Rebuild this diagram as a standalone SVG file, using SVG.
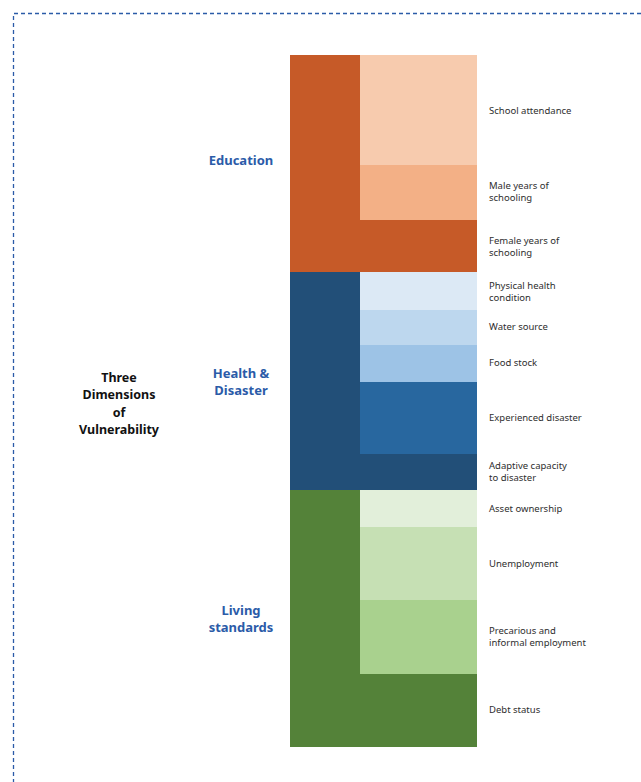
<svg xmlns="http://www.w3.org/2000/svg" width="641" height="782" viewBox="0 0 641 782">
<style>
.lbl{font-family:"Noto Sans","Open Sans","Liberation Sans",sans-serif;font-size:9.5px;fill:#2e2e2e}
.dim{font-family:"Noto Sans","Open Sans","Liberation Sans",sans-serif;font-size:13px;font-weight:bold;fill:#2b5ba8;text-anchor:middle}
.ttl{font-family:"Noto Sans","Open Sans","Liberation Sans",sans-serif;font-size:12.5px;font-weight:bold;fill:#111;text-anchor:middle}
</style>
<rect width="641" height="782" fill="#fff"/>
<path d="M13.5 790 V13.5 H650" fill="none" stroke="#2b5ba8" stroke-width="1.3" stroke-dasharray="4 3"/>
<g id="title"><text class="ttl" x="119" y="381.5">Three</text><text class="ttl" x="119" y="399">Dimensions</text><text class="ttl" x="119" y="416.5">of</text><text class="ttl" x="119" y="434">Vulnerability</text></g>
<g id="education">
<rect x="290" y="55" width="187" height="217" fill="#c65a28"/>
<rect x="360" y="55" width="117" height="110" fill="#f7cbae"/>
<rect x="360" y="165" width="117" height="55" fill="#f3b086"/>
<text class="dim" x="241" y="165">Education</text>
</g>
<g id="health">
<rect x="290" y="272" width="187" height="218" fill="#224f78"/>
<rect x="360" y="272" width="117" height="38" fill="#dce9f5"/>
<rect x="360" y="310" width="117" height="35" fill="#bdd7ee"/>
<rect x="360" y="345" width="117" height="37" fill="#9dc3e6"/>
<rect x="360" y="382" width="117" height="72" fill="#28679f"/>
<text class="dim" x="241" y="377.5">Health &amp;</text><text class="dim" x="241" y="395">Disaster</text>
</g>
<g id="living">
<rect x="290" y="490" width="187" height="257" fill="#548239"/>
<rect x="360" y="490" width="117" height="37" fill="#e2efda"/>
<rect x="360" y="527" width="117" height="73" fill="#c6e0b4"/>
<rect x="360" y="600" width="117" height="74" fill="#a9d18e"/>
<text class="dim" x="241" y="614.5">Living</text><text class="dim" x="241" y="632">standards</text>
</g>
<g id="indicators">
<text class="lbl" x="489" y="114">School attendance</text>
<text class="lbl" x="489" y="189">Male years of</text><text class="lbl" x="489" y="201">schooling</text>
<text class="lbl" x="489" y="243.5">Female years of</text><text class="lbl" x="489" y="255.5">schooling</text>
<text class="lbl" x="489" y="288.5">Physical health</text><text class="lbl" x="489" y="300.5">condition</text>
<text class="lbl" x="489" y="330">Water source</text>
<text class="lbl" x="489" y="365.5">Food stock</text>
<text class="lbl" x="489" y="420.5">Experienced disaster</text>
<text class="lbl" x="489" y="469">Adaptive capacity</text><text class="lbl" x="489" y="481">to disaster</text>
<text class="lbl" x="489" y="511.5">Asset ownership</text>
<text class="lbl" x="489" y="566.5">Unemployment</text>
<text class="lbl" x="489" y="633.5">Precarious and</text><text class="lbl" x="489" y="645.5">informal employment</text>
<text class="lbl" x="489" y="712.5">Debt status</text>
</g>
<g id="connectors"></g>
</svg>
